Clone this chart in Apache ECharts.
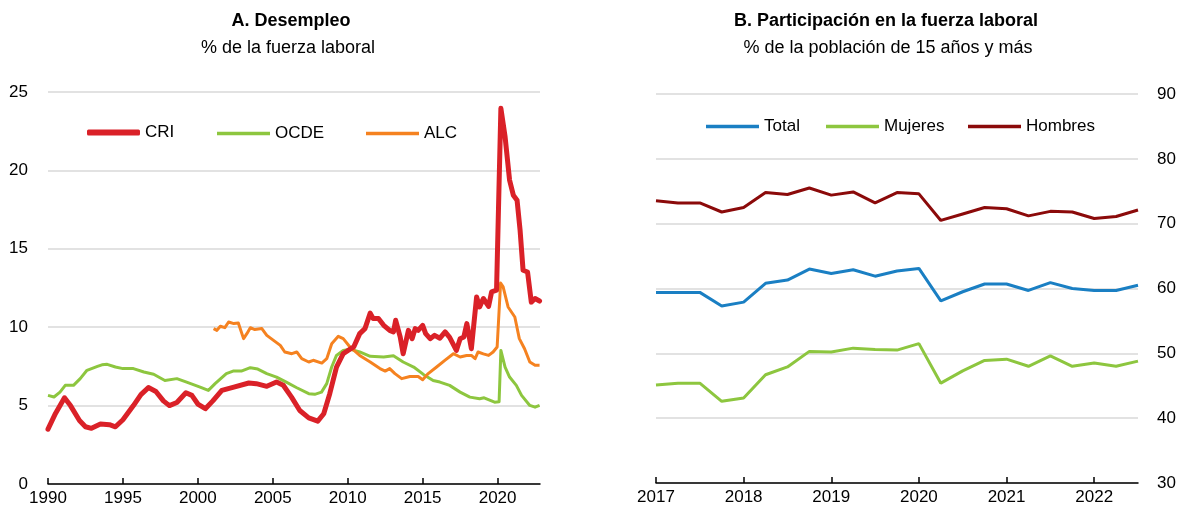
<!DOCTYPE html>
<html>
<head>
<meta charset="utf-8">
<script src="https://cdn.jsdelivr.net/npm/echarts@6/dist/echarts.min.js"></script>
<style>
  html, body { margin: 0; padding: 0; background: #fff; }
  #chart { width: 1184px; height: 512px; }
</style>
</head>
<body>
<div id="chart"></div>
<script>
// Panel A: unemployment, % of labour force  [year, value]
var criData = [[1990.0,3.5],[1990.5,4.5],[1991.1,5.5],[1991.5,5.0],[1992.1,4.05],[1992.5,3.65],[1992.9,3.55],[1993.5,3.82],[1994.1,3.78],[1994.5,3.65],[1995.0,4.1],[1995.7,5.0],[1996.2,5.7],[1996.7,6.15],[1997.2,5.9],[1997.7,5.3],[1998.1,5.0],[1998.6,5.2],[1999.2,5.82],[1999.6,5.65],[2000.0,5.1],[2000.5,4.8],[2001.0,5.3],[2001.6,5.97],[2002.4,6.18],[2003.4,6.44],[2003.9,6.4],[2004.6,6.23],[2005.25,6.5],[2005.7,6.3],[2006.25,5.54],[2006.8,4.69],[2007.4,4.22],[2008.0,4.01],[2008.4,4.48],[2008.8,5.76],[2009.25,7.46],[2009.7,8.31],[2010.0,8.5],[2010.4,8.74],[2010.8,9.59],[2011.15,9.91],[2011.5,10.9],[2011.7,10.55],[2012.05,10.55],[2012.4,10.12],[2012.8,9.8],[2013.05,9.7],[2013.2,10.44],[2013.5,9.38],[2013.7,8.31],[2014.05,9.8],[2014.3,9.27],[2014.5,9.91],[2014.7,9.8],[2015.0,10.12],[2015.2,9.59],[2015.5,9.27],[2015.8,9.48],[2016.15,9.3],[2016.5,9.7],[2016.8,9.35],[2017.25,8.52],[2017.5,9.27],[2017.75,9.38],[2017.95,10.23],[2018.25,8.63],[2018.6,11.93],[2018.8,11.29],[2019.05,11.83],[2019.4,11.33],[2019.6,12.25],[2019.93,12.36],[2020.05,12.4],[2020.22,23.96],[2020.5,22.15],[2020.8,19.38],[2021.05,18.42],[2021.3,18.1],[2021.5,16.2],[2021.7,13.63],[2022.0,13.52],[2022.25,11.6],[2022.5,11.83],[2022.8,11.67]];
var ocdeData = [[1990.0,5.65],[1990.4,5.55],[1990.8,5.86],[1991.15,6.29],[1991.7,6.29],[1992.15,6.72],[1992.6,7.25],[1993.3,7.5],[1993.6,7.6],[1993.95,7.63],[1994.5,7.46],[1995.0,7.36],[1995.7,7.36],[1996.4,7.14],[1997.05,7.0],[1997.8,6.6],[1998.6,6.72],[1999.25,6.5],[2000.15,6.18],[2000.7,5.97],[2001.15,6.4],[2001.9,7.04],[2002.35,7.2],[2002.9,7.2],[2003.5,7.42],[2004.0,7.33],[2004.6,7.04],[2005.25,6.82],[2005.9,6.5],[2006.6,6.14],[2007.4,5.76],[2007.8,5.72],[2008.25,5.86],[2008.6,6.4],[2008.93,7.46],[2009.25,8.2],[2009.7,8.52],[2010.15,8.6],[2010.8,8.42],[2011.5,8.14],[2012.4,8.1],[2013.05,8.18],[2013.7,7.78],[2014.4,7.46],[2015.05,6.99],[2015.7,6.6],[2016.15,6.5],[2016.8,6.29],[2017.5,5.86],[2018.15,5.54],[2018.8,5.44],[2019.1,5.5],[2019.8,5.22],[2020.1,5.25],[2020.22,8.52],[2020.5,7.46],[2020.8,6.82],[2021.25,6.29],[2021.6,5.65],[2022.15,5.01],[2022.5,4.9],[2022.8,5.01]];
var alcData = [[2001.05,9.91],[2001.27,9.8],[2001.5,10.06],[2001.8,9.97],[2002.05,10.33],[2002.4,10.23],[2002.7,10.27],[2003.05,9.27],[2003.27,9.59],[2003.5,9.97],[2003.8,9.85],[2004.27,9.91],[2004.6,9.48],[2005.05,9.16],[2005.5,8.84],[2005.8,8.42],[2006.27,8.31],[2006.6,8.42],[2006.93,7.99],[2007.4,7.78],[2007.7,7.89],[2008.27,7.71],[2008.6,7.99],[2008.93,8.95],[2009.37,9.42],[2009.7,9.27],[2010.15,8.74],[2010.8,8.2],[2011.5,7.78],[2012.15,7.36],[2012.5,7.2],[2012.8,7.36],[2013.15,7.04],[2013.6,6.72],[2014.15,6.86],[2014.7,6.86],[2015.0,6.65],[2015.37,7.04],[2015.93,7.46],[2016.5,7.9],[2017.05,8.31],[2017.5,8.1],[2017.93,8.2],[2018.25,8.2],[2018.5,7.99],[2018.7,8.42],[2019.05,8.3],[2019.4,8.2],[2019.7,8.42],[2019.97,8.74],[2020.2,12.82],[2020.37,12.57],[2020.7,11.29],[2021.15,10.65],[2021.45,9.27],[2021.8,8.63],[2022.15,7.78],[2022.5,7.57],[2022.8,7.57]];
var yearTicksA = [1990, 1995, 2000, 2005, 2010, 2015, 2020];

// Panel B: labour force participation, quarterly
var quarters = [2017,2017.25,2017.5,2017.75,2018,2018.25,2018.5,2018.75,2019,2019.25,2019.5,2019.75,2020,2020.25,2020.5,2020.75,2021,2021.25,2021.5,2021.75,2022,2022.25,2022.5];
var total   = [59.4,59.4,59.4,57.3,57.9,60.8,61.3,63.0,62.3,62.9,61.9,62.7,63.1,58.1,59.5,60.7,60.7,59.7,60.9,60.0,59.7,59.7,60.5];
var mujeres = [45.1,45.4,45.4,42.6,43.1,46.7,47.9,50.3,50.2,50.8,50.6,50.5,51.5,45.4,47.3,48.9,49.1,48.0,49.6,48.0,48.5,48.0,48.8];
var hombres = [73.55,73.2,73.2,71.8,72.5,74.8,74.5,75.5,74.4,74.9,73.2,74.8,74.6,70.5,71.5,72.5,72.3,71.2,71.9,71.8,70.8,71.1,72.1];
var yearTicksB = [2017, 2018, 2019, 2020, 2021, 2022];

function pairs(xs, ys) {
  return xs.map(function (x, i) { return [x, ys[i]]; });
}

var FONT = '"Liberation Sans", Arial, sans-serif';
var gridLine = { show: true, lineStyle: { color: '#d9d9d9', width: 1.5 } };

function xAxisFor(idx, min, max, ticks) {
  return {
    type: 'value', gridIndex: idx, min: min, max: max,
    splitLine: { show: false },
    axisLine: { show: true, onZero: false, lineStyle: { color: '#000', width: 1.5 } },
    axisTick: { show: true, inside: true, length: 6, customValues: ticks, lineStyle: { color: '#000', width: 1.5 } },
    axisLabel: { customValues: ticks, color: '#000', fontSize: 17, fontFamily: FONT, margin: 6,
      formatter: function (v) { return String(v); } }
  };
}

// one legend per entry so each sits where the reference puts it
function legendItem(name, left, top, h, icon) {
  return {
    left: left, top: top, padding: 0, itemWidth: 53, itemHeight: h, icon: icon,
    textStyle: { fontSize: 17, color: '#000', fontFamily: FONT },
    data: [name]
  };
}

var chart = echarts.init(document.getElementById('chart'), null, { renderer: 'canvas' });
chart.setOption({
  animation: false,
  textStyle: { fontFamily: FONT },
  graphic: [
    { type: 'text', x: 291, y: 12, style: { text: 'A. Desempleo', font: 'bold 18px ' + FONT, fill: '#000', textAlign: 'center' } },
    { type: 'text', x: 288, y: 39, style: { text: '% de la fuerza laboral', font: '18px ' + FONT, fill: '#000', textAlign: 'center' } },
    { type: 'text', x: 886, y: 12, style: { text: 'B. Participación en la fuerza laboral', font: 'bold 18px ' + FONT, fill: '#000', textAlign: 'center' } },
    { type: 'text', x: 888, y: 39, style: { text: '% de la población de 15 años y más', font: '18px ' + FONT, fill: '#000', textAlign: 'center' } }
  ],
  legend: [
    legendItem('CRI', 87, 124, 6, 'roundRect'),
    legendItem('OCDE', 217, 125, 3.5, 'rect'),
    legendItem('ALC', 366, 125, 3.5, 'rect'),
    legendItem('Total', 706, 118, 3.5, 'rect'),
    legendItem('Mujeres', 826, 118, 3.5, 'rect'),
    legendItem('Hombres', 968, 118, 3.5, 'rect')
  ],
  grid: [
    { left: 48, right: 644, top: 92, bottom: 28 },
    { left: 656, right: 46, top: 94, bottom: 29 }
  ],
  xAxis: [
    xAxisFor(0, 1990, 2022.83, yearTicksA),
    xAxisFor(1, 2017, 2022.5, yearTicksB)
  ],
  yAxis: [
    {
      type: 'value', gridIndex: 0, min: 0, max: 25, interval: 5,
      axisLine: { show: false }, axisTick: { show: false },
      splitLine: gridLine,
      axisLabel: { color: '#000', fontSize: 17, fontFamily: FONT, margin: 20 }
    },
    {
      type: 'value', gridIndex: 1, position: 'right', min: 30, max: 90, interval: 10,
      axisLine: { show: false }, axisTick: { show: false },
      splitLine: gridLine,
      axisLabel: { color: '#000', fontSize: 17, fontFamily: FONT, margin: 19 }
    }
  ],
  series: [
    { name: 'OCDE', type: 'line', xAxisIndex: 0, yAxisIndex: 0, data: ocdeData, symbol: 'none', z: 2,
      lineStyle: { color: '#8DC63F', width: 3, join: 'round' }, itemStyle: { color: '#8DC63F' } },
    { name: 'ALC', type: 'line', xAxisIndex: 0, yAxisIndex: 0, data: alcData, symbol: 'none', z: 3,
      lineStyle: { color: '#F58220', width: 3, join: 'round' }, itemStyle: { color: '#F58220' } },
    { name: 'CRI', type: 'line', xAxisIndex: 0, yAxisIndex: 0, data: criData, symbol: 'none', z: 4,
      lineStyle: { color: '#DA2128', width: 5, join: 'round', cap: 'round' }, itemStyle: { color: '#DA2128' } },
    { name: 'Total', type: 'line', xAxisIndex: 1, yAxisIndex: 1, data: pairs(quarters, total), symbol: 'none',
      lineStyle: { color: '#1A7FC3', width: 3 }, itemStyle: { color: '#1A7FC3' } },
    { name: 'Mujeres', type: 'line', xAxisIndex: 1, yAxisIndex: 1, data: pairs(quarters, mujeres), symbol: 'none',
      lineStyle: { color: '#8DC63F', width: 3 }, itemStyle: { color: '#8DC63F' } },
    { name: 'Hombres', type: 'line', xAxisIndex: 1, yAxisIndex: 1, data: pairs(quarters, hombres), symbol: 'none',
      lineStyle: { color: '#8B0A0A', width: 3 }, itemStyle: { color: '#8B0A0A' } }
  ]
});
</script>
</body>
</html>
